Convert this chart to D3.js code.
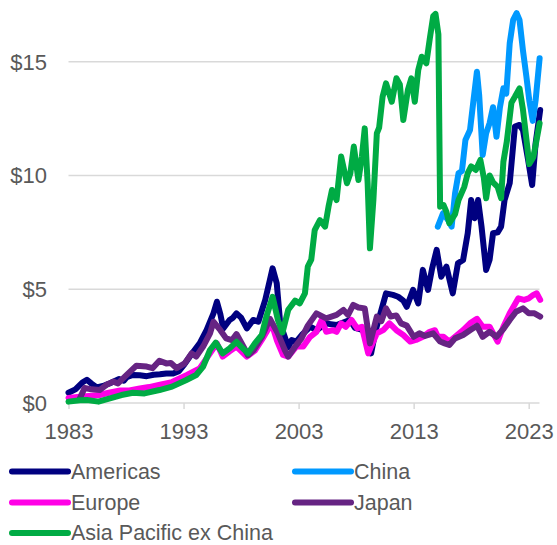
<!DOCTYPE html>
<html>
<head>
<meta charset="utf-8">
<script src="https://cdn.jsdelivr.net/npm/d3@7"></script>
<style>
  html, body { margin: 0; padding: 0; background: #ffffff; }
  svg { display: block; font-family: "Liberation Sans", Arial, sans-serif; }
</style>
</head>
<body>
<svg id="chart" width="557" height="545"></svg>
<script>
// ---- Data (year, value in $) ----
const seriesNames = ["Americas", "China", "Europe", "Japan", "Asia Pacific ex China"];
const xTickYears = [1983, 1993, 2003, 2013, 2023];
const yTickValues = [0, 5, 10, 15];

const americas = [
  [1983.0,0.45],[1983.6,0.6],[1984.2,0.9],[1984.6,1.02],[1985.0,0.85],[1985.45,0.68],[1986.0,0.75],
  [1986.6,0.87],[1987.4,1.05],[1987.8,0.98],[1988.05,1.13],[1988.6,1.23],[1989.2,1.22],[1989.8,1.18],
  [1990.4,1.24],[1990.95,1.26],[1991.5,1.3],[1992.1,1.3],[1992.6,1.4],[1993.0,1.65],[1993.7,2.15],
  [1994.4,2.62],[1995.0,3.2],[1995.6,3.94],[1995.9,4.45],[1996.2,3.9],[1996.45,3.28],[1997.0,3.65],
  [1997.3,3.75],[1997.6,3.94],[1998.0,3.75],[1998.5,3.28],[1999.05,3.65],[1999.5,3.57],[2000.1,4.53],
  [2000.5,5.4],[2000.74,5.92],[2001.1,5.26],[2001.4,3.5],[2001.8,2.9],[2002.1,2.45],[2002.4,2.77],
  [2002.8,2.7],[2003.3,3.0],[2004.0,3.35],[2004.6,3.2],[2005.3,3.5],[2006.3,3.43],[2007.45,3.65],
  [2007.9,3.3],[2008.6,3.2],[2009.1,2.4],[2009.3,2.18],[2009.7,3.2],[2010.2,4.09],[2010.6,4.82],
  [2011.2,4.75],[2011.65,4.67],[2012.1,4.5],[2012.4,4.23],[2012.95,4.97],[2013.4,4.38],[2013.8,5.85],
  [2014.25,4.97],[2014.6,5.9],[2015.0,6.73],[2015.4,5.55],[2015.85,5.99],[2016.4,4.82],[2016.85,6.14],
  [2017.3,6.29],[2017.7,7.46],[2018.0,8.92],[2018.3,8.12],[2018.6,8.92],[2018.9,7.75],[2019.3,5.85],
  [2019.6,6.29],[2019.9,7.46],[2020.3,7.5],[2020.6,7.75],[2020.9,8.92],[2021.35,9.66],[2021.8,12.15],
  [2022.2,12.22],[2022.5,12.0],[2022.95,10.68],[2023.3,9.58],[2023.6,11.41],[2024.0,12.88]
];

const china = [
  [2015.1,7.75],[2015.55,8.34],[2016.0,8.04],[2016.3,7.75],[2016.6,9.22],[2016.9,10.1],[2017.2,10.2],
  [2017.5,11.56],[2017.9,12.0],[2018.2,13.3],[2018.5,14.56],[2018.7,13.5],[2019.0,10.9],[2019.3,11.85],
  [2019.6,12.3],[2019.9,13.0],[2020.2,11.7],[2020.5,13.0],[2020.8,13.83],[2021.05,13.6],[2021.35,15.81],
  [2021.65,16.84],[2021.95,17.13],[2022.2,16.84],[2022.5,15.5],[2022.8,14.34],[2023.05,13.3],
  [2023.35,12.4],[2023.6,13.3],[2023.95,15.15]
];

const europe = [
  [1983.0,0.22],[1984.0,0.28],[1985.0,0.32],[1985.7,0.35],[1986.5,0.45],[1987.5,0.55],[1988.3,0.55],
  [1989.2,0.64],[1990.0,0.7],[1990.95,0.8],[1992.0,0.92],[1993.3,1.23],[1994.4,1.52],[1995.3,2.18],
  [1995.9,2.62],[1996.4,2.04],[1997.0,2.27],[1997.6,2.48],[1998.5,2.04],[1999.2,2.3],[1999.8,2.77],
  [2000.65,3.5],[2001.1,2.77],[2001.65,2.11],[2002.1,2.04],[2002.8,2.48],[2003.4,2.48],[2004.0,2.91],
  [2004.55,3.13],[2005.0,3.65],[2005.4,3.13],[2006.0,3.2],[2006.3,3.13],[2006.7,3.5],[2007.1,3.35],
  [2007.6,3.65],[2008.1,3.28],[2008.5,3.35],[2009.05,2.18],[2009.3,2.48],[2009.8,3.06],[2010.35,3.2],
  [2010.9,3.5],[2011.5,3.2],[2012.1,2.99],[2012.7,2.7],[2013.2,2.77],[2013.8,2.91],[2014.4,3.13],
  [2014.85,3.2],[2015.1,2.91],[2015.6,2.91],[2016.1,2.7],[2016.6,2.91],[2017.3,3.2],[2017.9,3.5],
  [2018.5,3.7],[2019.0,3.35],[2019.6,3.35],[2020.3,2.7],[2020.8,3.35],[2021.35,3.94],[2022.1,4.6],
  [2022.6,4.53],[2023.0,4.6],[2023.4,4.75],[2023.7,4.82],[2024.0,4.53]
];

const japan = [
  [1984.0,0.22],[1984.4,0.66],[1985.0,0.6],[1985.7,0.57],[1986.3,0.8],[1986.9,0.94],[1987.3,0.86],
  [1987.9,1.16],[1988.9,1.64],[1989.8,1.6],[1990.3,1.53],[1990.9,1.86],[1991.5,1.74],[1991.9,1.76],
  [1992.4,1.53],[1993.1,1.74],[1993.7,2.18],[1994.1,2.04],[1994.7,2.48],[1995.3,3.06],[1995.6,3.57],
  [1996.2,3.2],[1996.7,2.84],[1997.2,2.76],[1997.6,3.03],[1998.2,2.48],[1998.6,2.1],[1999.1,2.33],
  [1999.8,2.9],[2000.5,3.7],[2001.2,3.06],[2001.8,2.33],[2002.1,2.04],[2002.7,2.48],[2003.25,2.84],
  [2003.8,3.4],[2004.55,3.94],[2005.4,3.72],[2006.3,3.87],[2006.9,4.09],[2007.3,3.87],[2007.75,4.31],
  [2008.2,4.2],[2008.75,4.16],[2009.2,2.62],[2009.8,3.8],[2010.2,3.6],[2010.6,4.16],[2011.0,3.8],
  [2011.5,3.85],[2011.9,3.5],[2012.4,3.4],[2013.0,2.91],[2013.5,3.06],[2014.0,2.95],[2014.7,3.06],
  [2015.3,2.7],[2015.7,2.62],[2016.1,2.55],[2016.6,2.84],[2017.3,2.99],[2017.9,3.2],[2018.5,3.4],
  [2019.0,2.91],[2019.6,3.13],[2020.2,2.91],[2020.8,3.25],[2021.35,3.65],[2021.9,4.01],[2022.5,4.16],
  [2023.0,3.94],[2023.5,3.94],[2024.0,3.8]
];

const asiaPacExChina = [
  [1983.0,0.06],[1984.0,0.12],[1984.6,0.13],[1985.6,0.06],[1986.6,0.2],[1987.6,0.35],[1988.6,0.45],
  [1989.6,0.42],[1990.9,0.57],[1992.0,0.72],[1993.2,1.0],[1994.1,1.23],[1994.7,1.6],[1995.3,2.33],
  [1995.8,2.65],[1996.4,2.18],[1997.0,2.4],[1997.6,2.69],[1998.0,2.48],[1998.6,2.18],[1999.2,2.62],
  [1999.8,2.99],[2000.2,3.8],[2000.74,4.67],[2001.2,3.65],[2001.6,3.1],[2002.1,4.1],[2002.7,4.5],
  [2003.1,4.38],[2003.55,4.82],[2003.8,6.0],[2004.1,6.3],[2004.4,7.6],[2004.85,8.04],[2005.3,7.75],
  [2005.6,8.63],[2005.9,9.36],[2006.3,8.92],[2006.7,10.83],[2007.2,9.66],[2007.5,10.1],[2007.8,11.27],
  [2008.2,9.8],[2008.5,10.83],[2008.75,12.07],[2009.0,9.67],[2009.2,6.8],[2009.5,8.92],[2009.8,11.85],
  [2010.0,12.1],[2010.3,13.46],[2010.6,14.05],[2011.1,13.24],[2011.5,14.27],[2011.8,14.0],[2012.1,12.44],
  [2012.5,13.76],[2012.8,14.27],[2013.1,13.24],[2013.4,14.64],[2013.7,15.22],[2014.1,14.93],[2014.4,16.0],
  [2014.7,17.0],[2014.9,17.1],[2015.15,16.2],[2015.3,8.63],[2015.6,8.7],[2015.85,8.4],[2016.1,7.9],
  [2016.6,8.3],[2016.9,8.92],[2017.4,9.5],[2017.7,10.1],[2018.0,10.4],[2018.4,10.24],[2018.8,10.68],
  [2019.1,9.9],[2019.3,9.0],[2019.6,10.0],[2019.9,9.7],[2020.3,9.5],[2020.6,9.0],[2020.8,10.6],
  [2021.1,11.5],[2021.5,13.2],[2021.8,13.46],[2022.2,13.83],[2022.5,12.9],[2022.8,11.6],[2023.05,10.5],
  [2023.4,10.8],[2023.7,11.6],[2023.95,12.3]
];

const seriesData = [americas, china, europe, japan, asiaPacExChina];
const seriesColors = ["#000080", "#0099FF", "#FF00E6", "#662483", "#00AB44"];

// ---- Layout ----
const svg = d3.select("#chart");
const x = d3.scaleLinear().domain([1983, 2023]).range([68.5, 528.7]);
const y = d3.scaleLinear().domain([0, 15]).range([403, 61.7]);
const xEnd = 539.5;
const textColor = "#595959";
const gridColor = "#d9d9d9";

// gridlines
svg.append("g").selectAll("line").data(yTickValues.filter(v => v > 0)).join("line")
  .attr("x1", x.range()[0]).attr("x2", xEnd)
  .attr("y1", d => y(d)).attr("y2", d => y(d))
  .attr("stroke", gridColor).attr("stroke-width", 1.5);

// y labels
svg.append("g").selectAll("text").data(yTickValues).join("text")
  .attr("x", 47).attr("y", d => y(d) + 7.8)
  .attr("text-anchor", "end")
  .attr("font-size", 22).attr("fill", textColor)
  .text(d => "$" + d);

// x axis
const xAxis = d3.axisBottom(x).tickValues(xTickYears).tickFormat(d3.format("d")).tickSize(6).tickPadding(14);
const gx = svg.append("g").attr("transform", `translate(0,${y(0)})`).call(xAxis);
gx.select(".domain").remove();
gx.append("line").attr("x1", x.range()[0]).attr("x2", xEnd).attr("y1", 0).attr("y2", 0)
  .attr("stroke", gridColor).attr("stroke-width", 1.5);
gx.selectAll(".tick line").attr("stroke", gridColor).attr("stroke-width", 1.5);
gx.selectAll(".tick text").attr("font-size", 22).attr("fill", textColor)
  .attr("font-family", '"Liberation Sans", Arial, sans-serif');

// lines
const line = d3.line().x(d => x(d[0])).y(d => y(d[1]));
svg.append("g").selectAll("path").data(seriesData).join("path")
  .attr("d", d => line(d))
  .attr("fill", "none")
  .attr("stroke", (d, i) => seriesColors[i])
  .attr("stroke-width", 6)
  .attr("stroke-linejoin", "round")
  .attr("stroke-linecap", "round");

// legend
const legendPos = [
  {x: 12, y: 471.5}, {x: 295, y: 471.5},
  {x: 12, y: 502.5}, {x: 295, y: 502.5},
  {x: 12, y: 533}
];
const lg = svg.append("g").selectAll("g").data(seriesNames).join("g")
  .attr("transform", (d, i) => `translate(${legendPos[i].x},${legendPos[i].y})`);
lg.append("line").attr("x1", 0).attr("x2", 56).attr("y1", 0).attr("y2", 0)
  .attr("stroke", (d, i) => seriesColors[i]).attr("stroke-width", 6).attr("stroke-linecap", "round");
lg.append("text").attr("x", 59).attr("y", 7.2)
  .attr("font-size", 21.5).attr("fill", textColor)
  .text(d => d);
</script>
</body>
</html>
